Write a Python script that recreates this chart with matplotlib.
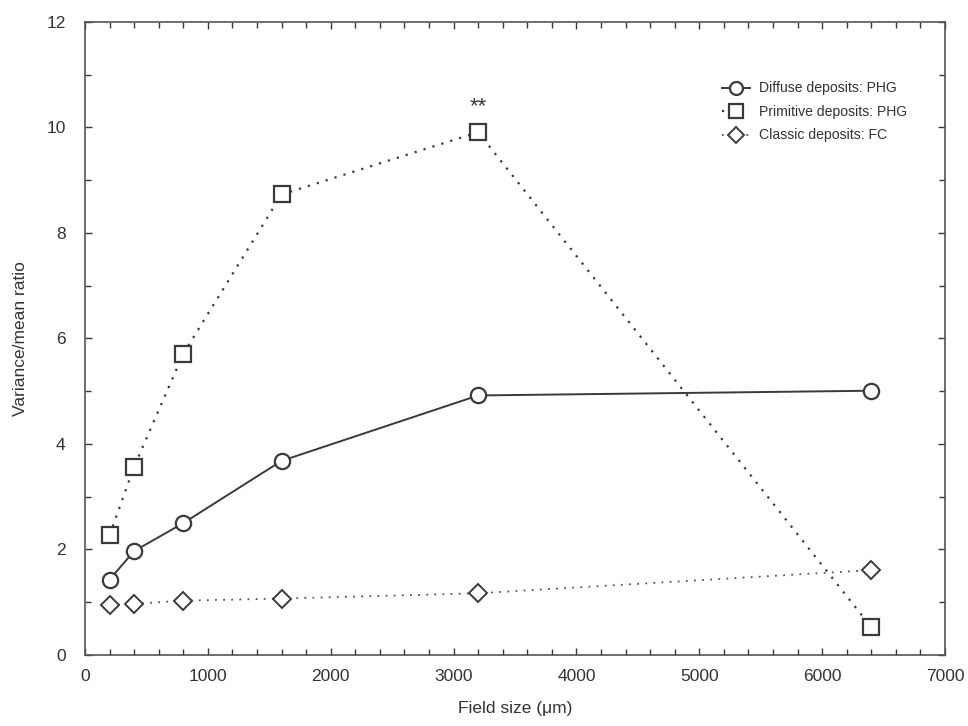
import matplotlib
matplotlib.use("Agg")
import matplotlib.pyplot as plt
from matplotlib.ticker import MultipleLocator

plt.rcParams['font.family'] = ['Liberation Sans', 'DejaVu Sans']

field_size = [200, 400, 800, 1600, 3200, 6400]
diffuse = [1.43, 1.97, 2.50, 3.68, 4.92, 5.01]
primitive = [2.27, 3.57, 5.71, 8.73, 9.91, 0.53]
classic = [0.95, 0.97, 1.03, 1.07, 1.17, 1.61]
labels = ["Diffuse deposits: PHG", "Primitive deposits: PHG", "Classic deposits: FC"]

fig = plt.figure(figsize=(9.68, 7.26), dpi=100)
ax = fig.add_axes([0.0878, 0.0978, 0.8884, 0.8719])

c = '#3a3a3a'
ax.plot(field_size, diffuse, '-', color=c, lw=1.4, marker='o', ms=11,
        mfc='white', mec=c, mew=1.6, label=labels[0])
ax.plot(field_size, primitive, color=c, lw=1.6, ls=(0, (1, 3.2)), marker='s', ms=12,
        mfc='white', mec=c, mew=1.6, label=labels[1])
ax.plot(field_size, classic, color='#555555', lw=1.3, ls=(0, (1, 3.5)), marker='D', ms=9,
        mfc='white', mec=c, mew=1.4, label=labels[2])

ax.text(3200, 10.4, '**', ha='center', va='center', fontsize=16, color=c)

ax.set_xlim(0, 7000)
ax.set_ylim(0, 12)
ax.xaxis.set_major_locator(MultipleLocator(1000))
ax.xaxis.set_minor_locator(MultipleLocator(200))
ax.yaxis.set_major_locator(MultipleLocator(2))
ax.yaxis.set_minor_locator(MultipleLocator(1))
ax.tick_params(which='both', direction='in', top=True, right=True, colors=c,
               labelcolor='#333333', labelsize=12.5, width=1)
ax.tick_params(axis='x', which='major', pad=10)
ax.tick_params(axis='y', which='major', pad=14)
ax.tick_params(which='major', length=5)
ax.tick_params(which='minor', length=4)
for s in ax.spines.values():
    s.set_color('#555555')
    s.set_linewidth(1.2)

ax.set_xlabel('Field size (\u03bcm)', fontsize=12.5, color='#333333', labelpad=12)
ax.set_ylabel('Variance/mean ratio', fontsize=12.5, color='#333333', labelpad=13)

leg = ax.legend(loc='upper right', bbox_to_anchor=(0.962, 0.915), frameon=False,
                fontsize=10.1, handlelength=2.0, handletextpad=0.6,
                labelspacing=0.68, borderaxespad=0, markerscale=0.85)
for t in leg.get_texts():
    t.set_color('#333333')

fig.savefig('out.png', dpi=100)
